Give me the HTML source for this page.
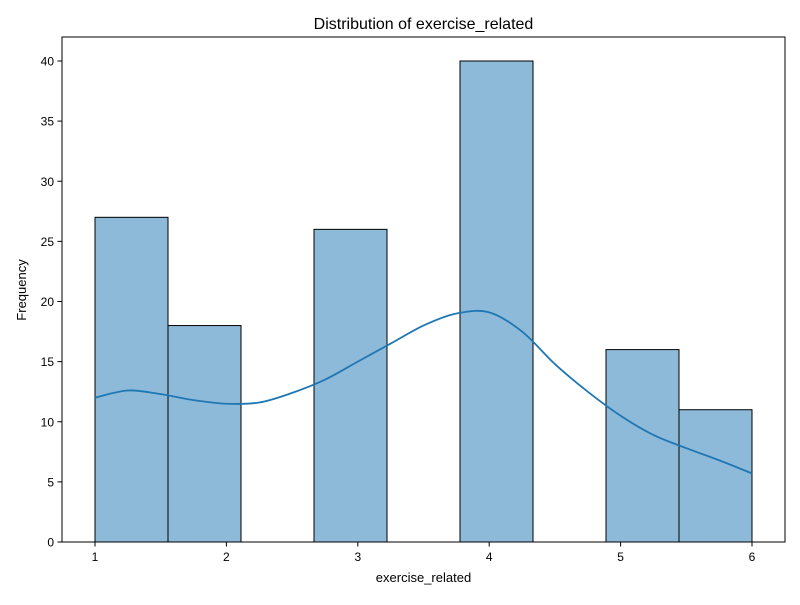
<!DOCTYPE html>
<html><head><meta charset="utf-8"><style>
body{margin:0;background:#fff;}
svg text{font-family:"Liberation Sans","DejaVu Sans",sans-serif;fill:#000;}
</style></head><body>
<svg id="chart" width="800" height="600" xmlns="http://www.w3.org/2000/svg">
<rect width="800" height="600" fill="#fff"/>
<text x="423.5" y="29" font-size="16" text-anchor="middle">Distribution of exercise_related</text>
<text x="423.5" y="582" font-size="13" text-anchor="middle">exercise_related</text>
<text x="26" y="290" font-size="13" text-anchor="middle" transform="rotate(-90 26 290)">Frequency</text>
<g id="bars"></g>
<path id="kde" fill="none" stroke="#1f77b4" stroke-width="1.8"/>
<g id="xticks"></g>
<g id="yticks"></g>
<rect x="62" y="37" width="723" height="505" fill="none" stroke="#000" stroke-width="1"/>
</svg>
<script>
const binEdgesStart = 1, binEdgesEnd = 6;
const counts = [27, 18, 0, 26, 0, 40, 0, 16, 11];
const kdeX = [1,1.25,1.5,1.75,2,2.25,2.5,2.75,3,3.25,3.5,3.75,4,4.25,4.5,4.75,5,5.25,5.5,5.75,6];
const kdeY = [12.0,12.6,12.3,11.8,11.5,11.6,12.4,13.5,15.0,16.5,18.0,19.0,19.1,17.5,14.8,12.5,10.5,8.9,7.8,6.8,5.7];
const xTicks = [1,2,3,4,5,6];
const yTicks = [0,5,10,15,20,25,30,35,40];

const NS="http://www.w3.org/2000/svg";
const xs = v => 95 + (v-1)*(752-95)/5;
const ys = v => 542 - v*(542-61)/40;
function mk(tag, attrs){const e=document.createElementNS(NS,tag);for(const k in attrs)e.setAttribute(k,attrs[k]);return e;}

const bars=document.getElementById('bars');
const w=(binEdgesEnd-binEdgesStart)/counts.length;
counts.forEach((c,i)=>{
  if(c<=0) return;
  const x0=xs(binEdgesStart+i*w), x1=xs(binEdgesStart+(i+1)*w);
  const r=mk('rect',{x:x0,y:ys(c),width:x1-x0,height:ys(0)-ys(c),fill:'#8ebad9',stroke:'#000','stroke-width':1});
  
  
  bars.appendChild(r);
});

const P=kdeX.map((x,i)=>[xs(x),ys(kdeY[i])]);
let d=`M${P[0][0]},${P[0][1]}`;
for(let i=0;i<P.length-1;i++){
  const p0=P[Math.max(0,i-1)],p1=P[i],p2=P[i+1],p3=P[Math.min(P.length-1,i+2)];
  const c1=[p1[0]+(p2[0]-p0[0])/6,p1[1]+(p2[1]-p0[1])/6];
  const c2=[p2[0]-(p3[0]-p1[0])/6,p2[1]-(p3[1]-p1[1])/6];
  d+=` C${c1[0]},${c1[1]} ${c2[0]},${c2[1]} ${p2[0]},${p2[1]}`;
}
document.getElementById('kde').setAttribute('d',d);

const xg=document.getElementById('xticks');
xTicks.forEach(t=>{
  const l=mk('line',{x1:xs(t),x2:xs(t),y1:542,y2:546.5,stroke:'#000'});
  
  
  xg.appendChild(l);
  const tx=mk('text',{x:xs(t),y:561,'font-size':12,'text-anchor':'middle'});
  tx.textContent=t;
  
  
  xg.appendChild(tx);
});
const yg=document.getElementById('yticks');
yTicks.forEach(t=>{
  const l=mk('line',{x1:57.5,x2:62,y1:ys(t),y2:ys(t),stroke:'#000'});
  
  
  yg.appendChild(l);
  const tx=mk('text',{x:54,y:ys(t)+4.5,'font-size':12,'text-anchor':'end'});
  tx.textContent=t;
  
  
  yg.appendChild(tx);
});
</script>
</body></html>
